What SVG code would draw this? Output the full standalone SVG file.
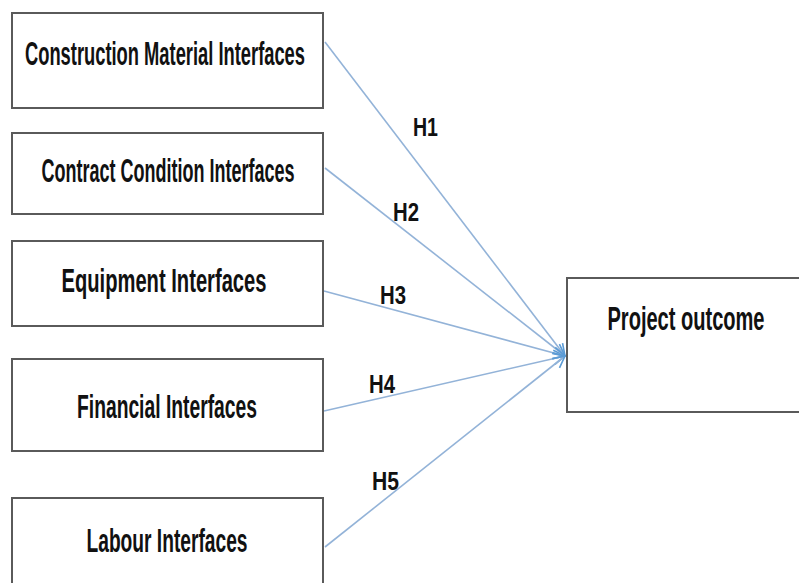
<svg xmlns="http://www.w3.org/2000/svg" width="799" height="583" viewBox="0 0 799 583">
  <style>
    .box { fill: #ffffff; stroke: #5a5a5a; stroke-width: 2; }
    .label { font-family: "Liberation Sans Narrow", "Liberation Sans", Arial, sans-serif; font-weight: bold; font-size: 34px; fill: #111111; text-anchor: middle; }
    .hyp { font-family: "Liberation Sans Narrow", "Liberation Sans", Arial, sans-serif; font-weight: bold; font-size: 25px; fill: #111111; }
    .link { stroke: #93b3d8; stroke-width: 1.6; fill: none; marker-end: url(#arrow); }
  </style>
  <defs>
    <marker id="arrow" markerUnits="userSpaceOnUse" markerWidth="14" markerHeight="14" viewBox="0 0 12 12" refX="11" refY="6" orient="auto">
      <path d="M1,1 L11,6 L1,11" fill="none" stroke="#5b9bd5" stroke-width="1.4"/>
    </marker>
  </defs>
  <rect width="799" height="583" fill="#ffffff"/>

  <g id="connectors">
    <line class="link" x1="325" y1="42" x2="565" y2="356"/>
    <line class="link" x1="325" y1="168" x2="565" y2="356"/>
    <line class="link" x1="324" y1="291" x2="565" y2="356"/>
    <line class="link" x1="324" y1="411" x2="565" y2="356"/>
    <line class="link" x1="325" y1="547" x2="565" y2="356"/>
    <text class="hyp" x="413" y="136" textLength="25" lengthAdjust="spacingAndGlyphs">H1</text>
    <text class="hyp" x="393" y="221" textLength="26" lengthAdjust="spacingAndGlyphs">H2</text>
    <text class="hyp" x="380" y="304" textLength="26" lengthAdjust="spacingAndGlyphs">H3</text>
    <text class="hyp" x="369" y="393" textLength="26" lengthAdjust="spacingAndGlyphs">H4</text>
    <text class="hyp" x="372" y="490" textLength="27" lengthAdjust="spacingAndGlyphs">H5</text>
  </g>

  <g id="construction-material">
    <rect class="box" x="12" y="13" width="311" height="95"/>
    <text class="label" x="165" y="65" textLength="280" lengthAdjust="spacingAndGlyphs">Construction Material Interfaces</text>
  </g>

  <g id="contract-condition">
    <rect class="box" x="12" y="133" width="311" height="81"/>
    <text class="label" x="168" y="182" textLength="253" lengthAdjust="spacingAndGlyphs">Contract Condition Interfaces</text>
  </g>

  <g id="equipment">
    <rect class="box" x="12" y="241" width="311" height="85"/>
    <text class="label" x="164" y="292" textLength="205" lengthAdjust="spacingAndGlyphs">Equipment Interfaces</text>
  </g>

  <g id="financial">
    <rect class="box" x="12" y="359" width="311" height="92"/>
    <text class="label" x="167" y="418" textLength="180" lengthAdjust="spacingAndGlyphs">Financial Interfaces</text>
  </g>

  <g id="labour">
    <rect class="box" x="12" y="498" width="311" height="100"/>
    <text class="label" x="167" y="552" textLength="161" lengthAdjust="spacingAndGlyphs">Labour Interfaces</text>
  </g>

  <g id="project-outcome">
    <rect class="box" x="567" y="278" width="240" height="134"/>
    <text class="label" x="686" y="330" textLength="157" lengthAdjust="spacingAndGlyphs">Project outcome</text>
  </g>
</svg>
